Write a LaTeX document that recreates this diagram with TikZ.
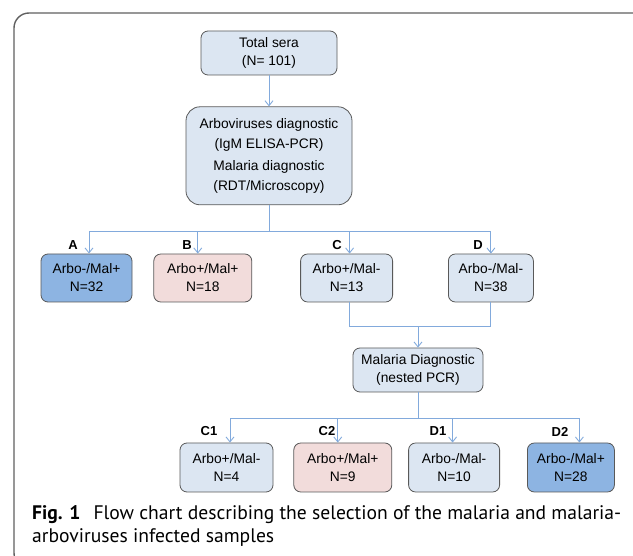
\documentclass[tikz,border=0pt]{standalone}
\usepackage{fontspec}
\setmainfont{Liberation Sans}
\newfontfamily\capfont{PT Sans}
\usetikzlibrary{positioning,arrows.meta}

\definecolor{lightbox}{HTML}{DCE6F2}
\definecolor{darkbox}{HTML}{8DB4E2}
\definecolor{pinkbox}{HTML}{F2DCDB}
\definecolor{boxline}{HTML}{595959}
\definecolor{linkline}{HTML}{82AADC}
\definecolor{frameline}{HTML}{606060}

\begin{document}
\begin{tikzpicture}[x=1pt,y=1pt,
  box/.style={draw=boxline,line width=0.8pt,rounded corners=7pt,align=center,
    inner sep=0pt,font=\fontsize{13.8}{18}\selectfont},
  row/.style={box,minimum height=48pt},
  leaf/.style={box,minimum height=49pt},
  tag/.style={inner sep=0pt,font=\fontsize{13}{14}\selectfont\bfseries},
  line/.style={draw=linkline,line width=0.9pt},
  link/.style={line,-{Straight Barb[length=5pt,width=8pt]}},
  frame/.style={draw=frameline,line width=1.4pt,rounded corners=15pt}]

\useasboundingbox (0,0) rectangle (633,-556);
\begin{scope}
  \clip (0,0) rectangle (633,-556);
  \draw[frame] (14,-13) rectangle (660,-568);
\end{scope}

% top of the chart
\node[box,fill=lightbox,minimum width=136pt,minimum height=44pt] (total) at (269,-53) {Total sera\\(N= 101)};
\node[box,fill=lightbox,rounded corners=14pt,minimum width=166pt,minimum height=98pt,
  font=\fontsize{13.8}{20}\selectfont,below=31pt of total] (arbo)
  {Arboviruses diagnostic\\(IgM ELISA-PCR)\\[2pt]Malaria diagnostic\\(RDT/Microscopy)};

% first split
\node[row,fill=darkbox,minimum width=91pt] (a) at (86.5,-278) {Arbo-/Mal+\\N=32};
\node[row,fill=pinkbox,minimum width=98pt,right=21pt of a] (b) {Arbo+/Mal+\\N=18};
\node[row,fill=lightbox,minimum width=92pt,right=48pt of b] (c) {Arbo+/Mal-\\N=13};
\node[row,fill=lightbox,minimum width=85pt,right=55pt of c] (d) {Arbo-/Mal-\\N=38};

\node[tag] (tagA) at (73,-245) {A};
\node[tag] (tagB) at (187,-245) {B};
\node[tag] (tagC) at (337,-245) {C};
\node[tag] (tagD) at (478,-245) {D};

% nested PCR
\node[box,fill=lightbox,minimum width=130pt,minimum height=44pt] (pcr) at (418,-370) {Malaria Diagnostic\\(nested PCR)};

% second split
\node[leaf,fill=lightbox,minimum width=93pt] (c1) at (226.5,-467.5) {Arbo+/Mal-\\N=4};
\node[leaf,fill=pinkbox,minimum width=98pt,right=20pt of c1] (c2) {Arbo+/Mal+\\N=9};
\node[leaf,fill=lightbox,minimum width=91pt,right=16pt of c2] (d1) {Arbo-/Mal-\\N=10};
\node[leaf,fill=darkbox,minimum width=87pt,right=27pt of d1] (d2) {Arbo-/Mal+\\N=28};

\node[tag] (tagC1) at (209,-431) {C1};
\node[tag] (tagC2) at (327,-431) {C2};
\node[tag] (tagD1) at (438,-431) {D1};
\node[tag] (tagD2) at (560,-432) {D2};

% connectors
\path (arbo.south) ++(0,-26) coordinate (j1);
\path (pcr.north) ++(0,21) coordinate (j2);
\path (pcr.south) ++(0,-26) coordinate (j3);

\draw[link] (total.south) -- (arbo.north);
\draw[line] (arbo.south) -- (j1);
\draw[link] (j1) -| ([xshift=2.5pt]a.north);
\draw[link] (j1) -| ([xshift=-5pt]b.north);
\draw[link] (j1) -| ([xshift=3pt]c.north);
\draw[link] (j1) -| (d.north);

\draw[line] ([xshift=3pt]c.south) |- (j2) -| (d.south);
\draw[link] (j2) -- (pcr.north);

\draw[line] (pcr.south) -- (j3);
\draw[link] (j3) -| ([xshift=3.5pt]c1.north);
\draw[link] (j3) -| ([xshift=-5pt]c2.north);
\draw[link] (j3) -| ([xshift=-1.5pt]d1.north);
\draw[link] (j3) -| ([xshift=8.5pt]d2.north);

% caption
\node[anchor=north west,align=left,inner sep=0pt,font=\capfont\fontsize{19.6}{23}\selectfont] (cap) at (32,-505)
  {\textbf{Fig. 1}\hspace{0.4em} Flow chart describing the selection of the malaria and malaria-\\arboviruses infected samples};

\end{tikzpicture}
\end{document}
